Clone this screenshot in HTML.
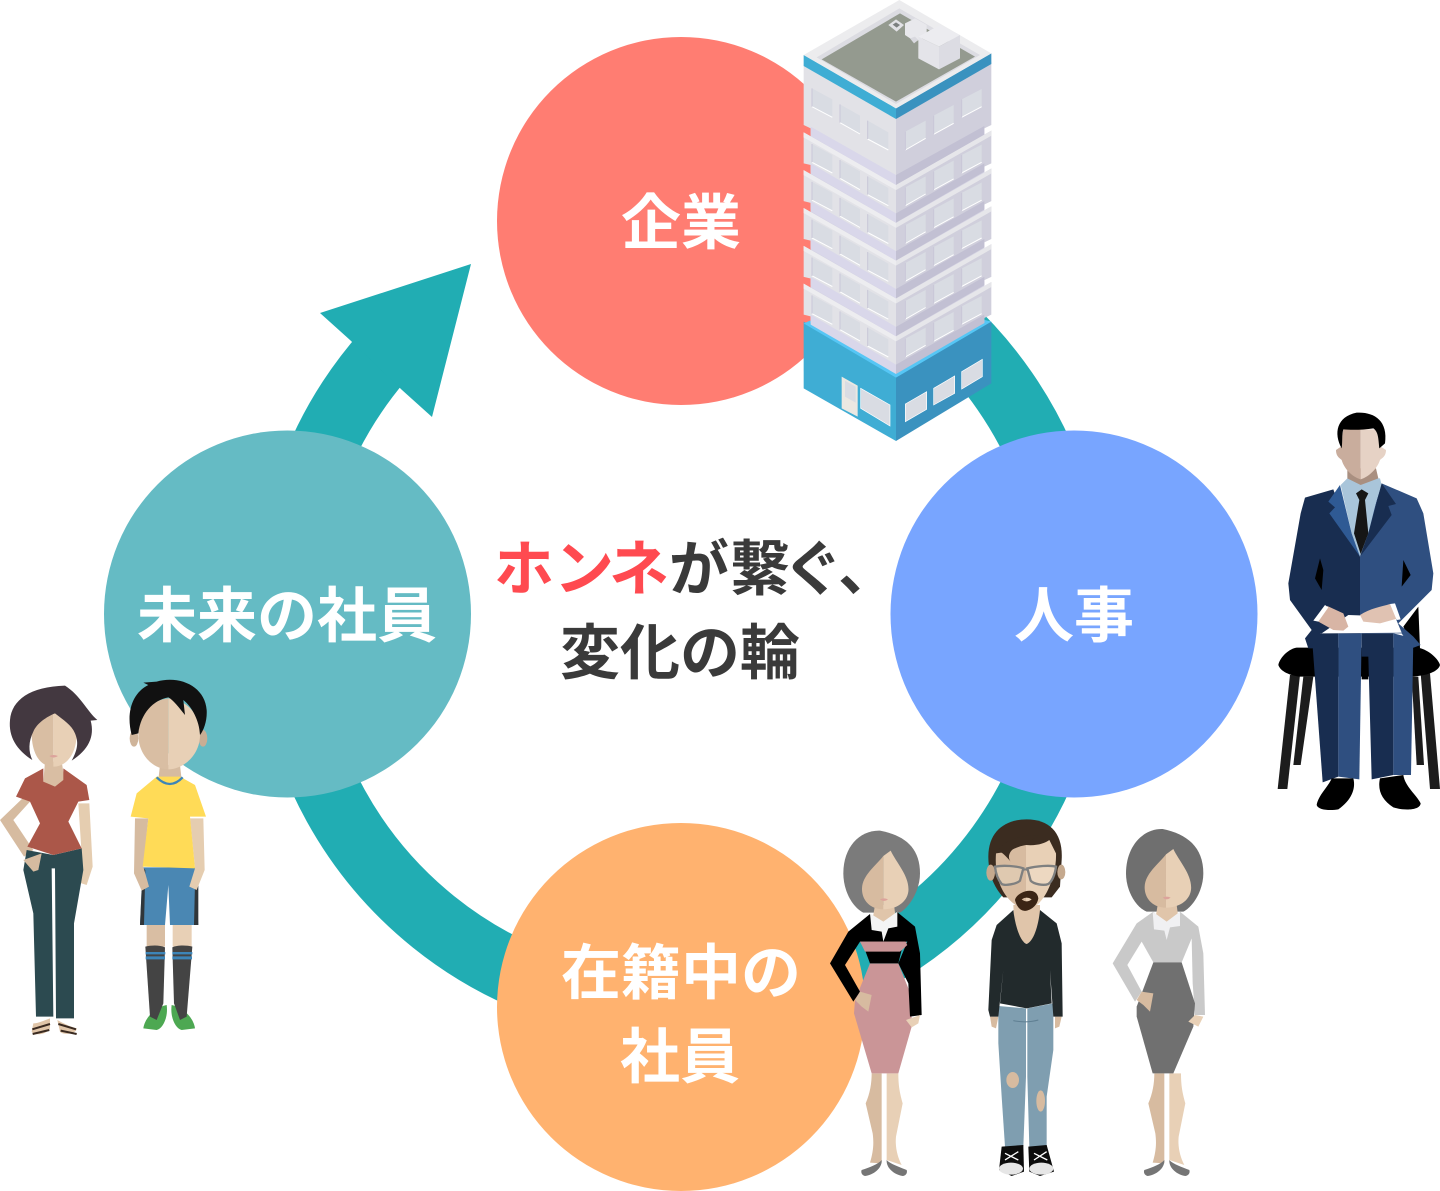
<!DOCTYPE html>
<html lang="ja"><head><meta charset="utf-8"><title>ホンネが繋ぐ、変化の輪</title>
<style>
html,body{margin:0;padding:0;background:#fff}
svg{display:block}
text{font-family:"Liberation Sans","Noto Sans CJK JP",sans-serif;font-weight:700;font-size:60px}
</style></head><body>
<svg width="1440" height="1191" viewBox="0 0 1440 1191" xmlns="http://www.w3.org/2000/svg">
<defs>
<g id="win">
<g fill="#d9dce3">
<polygon points="66,265 127,298 127,352 66,320"/><polygon points="150,313 210,347 210,402 150,368"/><polygon points="233,362 295,397 295,450 233,417"/>
<polygon points="346,395 407,362 407,415 346,450"/><polygon points="431,347 491,315 491,370 431,403"/><polygon points="515,298 575,267 575,320 515,352"/>
</g>
<g stroke="#fff" stroke-width="3" fill="none">
<path d="M66,320 127,352M150,368 210,402M233,417 295,450M346,450 407,415M431,403 491,370M515,352 575,320"/>
</g>
<g stroke="#c9c7d8" stroke-width="3" fill="none">
<path d="M66,265V320M150,313V368M233,362V417M346,395V450M431,347V403M515,298V352"/>
</g>
</g>
<g id="floor">
<polygon points="41,397 318,555 318,662 62,515 62,495 41,490" fill="#e2e2e7"/>
<polygon points="318,555 604,392 604,490 583,500 583,515 318,662" fill="#d0cfdc"/>
<polygon points="62,490 318,640 318,668 62,520" fill="#d9d7ea"/>
<polygon points="318,640 583,490 583,515 318,668" fill="#c2c0d3"/>
<polygon points="41,397 318,555 318,570 41,412" fill="#ededf0"/>
<polygon points="318,555 604,392 604,407 318,570" fill="#e6e6ea"/>
</g>
<g id="legs">
<path d="M155,790H185V1060L150,1058C160,1025 162,1000 158,970L137,880C150,850 155,820 155,790Z" fill="#d7bba0"/>
<path d="M200,790H235C235,830 240,850 248,880L228,980C225,1010 232,1040 245,1065L200,1050Z" fill="#e8d0b6"/>
<path d="M125,1080C150,1072 175,1062 185,1050C187,1075 160,1095 135,1098C125,1096 122,1086 125,1080Z" fill="#757575"/>
<path d="M200,1050C210,1062 240,1072 260,1080C263,1088 258,1097 248,1098C225,1095 198,1075 200,1050Z" fill="#757575"/>
</g>
<g id="wface">
<path d="M190,138V298C150,298 125,270 126,235C128,195 165,170 190,138Z" fill="#d7bba0"/>
<path d="M190,138L212,122C230,160 270,200 265,245C260,280 225,298 190,298Z" fill="#e8d0b6"/>
<path d="M180,268Q192,262 204,268Q192,278 180,268Z" fill="#dca39b"/>
</g>
</defs>

<!-- ring and arrow -->
<path d="M896,285A394,394 0 1 1 386,353" fill="none" stroke="#21adb3" stroke-width="66"/>
<polygon points="471,264 320,313 350,340 402,390 432,417" fill="#21adb3"/>

<!-- circles -->
<circle cx="681" cy="221" r="184" fill="#ff7d72"/>
<circle cx="1074" cy="614" r="183.5" fill="#78a5ff"/>
<circle cx="681" cy="1007" r="184" fill="#ffb26f"/>
<circle cx="287.5" cy="614" r="183.5" fill="#65bbc4"/>

<!-- labels -->
<text x="621 681" y="244" fill="#fff">企業</text>
<text x="1014 1074" y="637" fill="#fff">人事</text>
<text x="137 197 257 317 377" y="637" fill="#fff">未来の社員</text>
<text x="561 621 681 741" y="994" fill="#fff">在籍中の</text>
<text x="620 680" y="1078" fill="#fff">社員</text>
<text y="590" fill="#3a3a3a"><tspan x="494 554 609" fill="#ff4a50">ホンネ</tspan><tspan x="669 730 783 838">が繋ぐ、</tspan></text>
<text x="560 620 680 740" y="674" fill="#3a3a3a">変化の輪</text>

<!-- building -->
<g transform="translate(790,0) scale(.33333)">
<polygon points="41,965 318,1125 318,1323 41,1165" fill="#3fadd4"/>
<polygon points="318,1125 604,965 604,1150 318,1323" fill="#3a92bf"/>
<polygon points="60,962 318,1112 585,960 604,965 318,1133 41,970" fill="#56c6f5"/>
<polygon points="155,1130 203,1157 203,1250 155,1225" fill="#ebe8e2"/>
<polygon points="165,1142 197,1160 197,1208 165,1190" fill="#d9dce3"/>
<polygon points="212,1165 300,1215 300,1278 212,1225" fill="#d9dce3" stroke="#fff" stroke-width="2"/>
<polygon points="346,1212 410,1175 410,1228 346,1265" fill="#d9dce3" stroke="#fff" stroke-width="2"/>
<polygon points="431,1165 494,1128 494,1180 431,1215" fill="#d9dce3" stroke="#fff" stroke-width="2"/>
<polygon points="515,1115 577,1078 577,1130 515,1167" fill="#d9dce3" stroke="#fff" stroke-width="2"/>
<polygon points="62,190 318,335 583,190 583,962 318,1115 62,962" fill="#d5d3e4"/>
<use href="#floor" y="454"/><use href="#floor" y="340.5"/><use href="#floor" y="227"/><use href="#floor" y="113.5"/><use href="#floor"/>
<polygon points="41,190 318,350 318,530 62,385 41,375" fill="#e2e2e7"/>
<polygon points="318,350 604,185 604,375 583,385 318,530" fill="#d0cfdc"/>
<polygon points="62,380 318,525 318,555 62,408" fill="#d9d7ea"/>
<polygon points="318,525 583,378 583,405 318,555" fill="#c2c0d3"/>
<polygon points="41,397 318,555 318,570 41,412" fill="#ededf0"/>
<polygon points="318,555 604,392 604,407 318,570" fill="#e6e6ea"/>
<use href="#win"/>
<use href="#win" y="167"/><use href="#win" y="280.5"/><use href="#win" y="394"/><use href="#win" y="507.5"/><use href="#win" y="621"/>
<polygon points="41,165 318,325 318,357 41,198" fill="#3fadd4"/>
<polygon points="318,325 604,160 604,192 318,357" fill="#3a92bf"/>
<polygon points="41,165 328,0 604,160 318,325" fill="#ececee"/>
<polygon points="80,172 328,25 570,165 318,312" fill="#dcdce2"/>
<polygon points="95,178 330,40 555,170 318,305" fill="#949a8f"/>
<polygon points="295,75 318,58 342,75 320,95" fill="#e2e2e6"/>
<polygon points="308,74 318,67 330,75 320,83" fill="#7c8080"/>
<polygon points="345,70 375,55 410,75 410,110 375,125 345,105" fill="#e8e8ec"/>
<polygon points="360,115 375,110 385,120 372,130" fill="#d9d9df"/>
<polygon points="385,110 450,75 510,105 447,140" fill="#ececf0"/>
<polygon points="385,110 447,140 447,208 385,175" fill="#e4e4e9"/>
<polygon points="447,140 510,105 510,175 447,208" fill="#dcdce3"/>
</g>

<!-- seated man -->
<g transform="translate(1270,400) scale(.33333)">
<g fill="#1c1c1c">
<polygon points="60,825 90,825 52,1167 23,1167"/><polygon points="100,830 130,830 92,1095 70,1095"/>
<polygon points="425,830 445,830 462,1095 440,1095"/><polygon points="452,820 480,820 510,1167 480,1167"/>
</g>
<path d="M25,795C30,770 60,745 80,743H440C470,745 505,775 510,795C505,815 470,828 420,830H295V838H275V830H90C50,825 30,810 25,795Z" fill="#000"/>
<polygon points="125,700 205,700 205,1130 158,1147" fill="#182d50"/>
<polygon points="205,700 275,700 268,1138 205,1130" fill="#2f4f80"/>
<polygon points="275,700 370,700 370,1125 305,1138 295,770 275,770" fill="#182d50"/>
<polygon points="370,700 430,715 423,1125 370,1125" fill="#2f4f80"/>
<path d="M140,1215C145,1185 175,1160 185,1135L250,1135C258,1165 245,1200 205,1228C185,1232 145,1232 140,1215Z" fill="#000"/>
<path d="M330,1135L400,1125C405,1160 440,1185 452,1210C450,1232 400,1232 370,1222C335,1200 322,1170 330,1135Z" fill="#000"/>
<polygon points="400,680 445,620 450,745 430,745" fill="#000"/>
<polygon points="190,268 105,293 92,340 55,550 60,600 125,690 105,715 115,745 128,745 150,700 270,700 270,470 215,340" fill="#182d50"/>
<polygon points="335,250 440,295 460,340 490,520 485,570 385,670 430,710 452,735 425,745 395,700 270,700 270,470" fill="#2f4f80"/>
<polygon points="232,235 330,235 335,255 320,300 295,400 270,470 245,400 212,255" fill="#a9c5da"/>
<polygon points="258,280 275,268 295,280 285,300 295,400 272,462 252,400 268,300" fill="#161616"/>
<polygon points="210,255 175,305 195,322 178,340 270,470 245,400" fill="#2f5a94"/>
<polygon points="335,250 378,312 355,318 365,345 270,470 295,400" fill="#182d50"/>
<polygon points="150,475 135,535 155,570 160,510" fill="#000"/>
<polygon points="400,480 422,525 395,560" fill="#000"/>
<polygon points="155,700 395,698 375,650 235,645" fill="#fff"/>
<path d="M172,618L220,640L235,680L220,692L190,690L145,665Z" fill="#d8b5a5"/>
<path d="M270,645C300,625 335,620 360,612L385,655L330,670L280,665Z" fill="#e0c2b2"/>
<polygon points="165,615 175,622 145,665 130,662" fill="#fff"/>
<polygon points="360,612 375,610 392,658 380,660" fill="#fff"/>
<polygon points="232,205 318,205 325,235 272,255 232,235" fill="#a98f80"/>
<path d="M272,88H220C215,115 215,130 213,140L198,150C198,170 210,175 215,180C222,205 245,230 272,238Z" fill="#c9ad9d"/>
<path d="M272,88H326C330,115 330,130 332,140L348,150C348,170 335,175 330,180C322,205 298,230 272,238Z" fill="#e6d2c5"/>
<path d="M215,145C190,100 200,50 260,38C310,35 355,60 345,130L328,145C325,115 325,95 310,85C280,90 240,90 220,88C215,105 218,125 215,145Z" fill="#000"/>
</g>

<!-- woman and boy -->
<g transform="translate(0,670) scale(.33333)">
<path d="M75,378L0,450L72,560L100,540L40,450L90,395Z" fill="#d6bba0"/>
<path d="M235,400H268L278,590L260,645L228,635L248,600Z" fill="#e5cdb0"/>
<path d="M80,540L160,555L245,535L250,600L222,760V1045H168L165,595H155L160,1040H108L100,730L70,600Z" fill="#2c4a50"/>
<path d="M70,570L125,550L115,600L100,605Z" fill="#d6bba0"/>
<path d="M100,1060C115,1060 135,1050 150,1045L150,1075C140,1095 100,1098 95,1085Z" fill="#e0c5a8"/>
<path d="M172,1050C190,1060 210,1070 230,1075C232,1090 190,1098 180,1085Z" fill="#e0c5a8"/>
<path d="M97,1078L150,1062M98,1092L148,1080M175,1062L228,1078M182,1082L230,1092" stroke="#3a2a20" stroke-width="6" fill="none"/>
<path d="M135,275H185L195,335L165,352L130,335Z" fill="#d9bea3"/>
<path d="M160,100V290C120,290 95,250 95,190C95,140 125,105 160,100Z" fill="#d9bea3"/>
<path d="M160,100V290C200,290 230,250 230,190C230,140 195,105 160,100Z" fill="#e8d0b6"/>
<path d="M148,258Q160,252 174,258Q160,268 148,258Z" fill="#dca39b"/>
<path d="M130,295L75,325L48,380L90,395L120,460L82,530L160,555L245,535L205,455L235,395L268,390L260,345L190,295L190,330L165,350L130,335Z" fill="#ab5749"/>
<path d="M30,150C35,90 90,50 195,47C240,75 262,125 292,150L272,152C285,200 265,240 215,272C235,235 235,215 225,190C215,165 190,150 165,130C140,140 110,160 100,185C85,215 85,245 97,270C50,240 25,200 30,150Z" fill="#433840"/>

<ellipse cx="402" cy="205" rx="13" ry="25" fill="#cfb49a"/><ellipse cx="609" cy="205" rx="13" ry="25" fill="#c9ad94"/>
<path d="M480,285H540L545,330H475Z" fill="#d6bba0"/>
<path d="M505,85C455,90 415,130 415,195C415,255 460,298 505,298Z" fill="#d9bea3"/>
<path d="M505,85C560,90 600,130 600,195C600,255 550,298 505,298Z" fill="#e8d0b6"/>
<path d="M395,195C378,130 395,70 445,45L430,38L470,35C540,15 615,50 620,120C622,150 612,180 600,195C598,150 575,110 550,90L555,135C535,110 520,90 505,82C460,90 422,130 415,190Z" fill="#111"/>
<path d="M428,592H585L595,765H510L505,645L495,765H420Z" fill="#4a87b3"/>
<path d="M428,592L436,600L432,765H420ZM585,640L595,640V765H582Z" fill="#30363a"/>
<path d="M405,445H445L430,590L447,650L425,662L402,610Z" fill="#d6bba0"/>
<path d="M570,445H610L614,600L590,660L568,650L585,595Z" fill="#e5cdb0"/>
<path d="M440,765H495V830H440Z" fill="#d9bea3"/><path d="M518,765H575V830H518Z" fill="#e8d0b6"/>
<path d="M430,1075C435,1040 470,1010 500,1005C505,1040 490,1075 470,1080Z" fill="#4da852"/>
<path d="M585,1075C580,1040 545,1010 515,1005C510,1040 525,1075 545,1080Z" fill="#4da852"/>
<path d="M436,830C455,825 480,825 495,832L490,1000L470,1050L450,1040Z" fill="#444"/>
<path d="M517,832C530,825 560,825 577,830L560,1040L540,1050L522,1000Z" fill="#444"/>
<path d="M437,846H496V853H437ZM437,859H495V868H437ZM517,846H577V853H517ZM517,859H576V868H517Z" fill="#3d85b8"/>
<path d="M470,320H540L585,345L618,440H570L585,595L428,590L445,445L392,440L410,370Z" fill="#ffdb57"/>
<path d="M470,322Q510,362 548,322" fill="none" stroke="#3d85b8" stroke-width="7"/>
</g>

<!-- group of three -->
<g transform="translate(820,810) scale(.33333)">
<!-- woman A -->
<path d="M70,190C70,110 120,60 180,62C250,75 300,110 300,190C300,240 270,290 240,308H130C95,290 70,240 70,190Z" fill="#7b7b7b"/>
<use href="#legs"/>
<path d="M165,285H222L230,345L190,395L155,345Z" fill="#e0c5aa"/>
<use href="#wface"/>
<path d="M150,460H235L275,560L275,650L235,790H155L102,610L105,570Z" fill="#ca9597"/>
<path d="M120,395C165,385 220,385 255,385L262,405L240,425H145Z" fill="#ca9597"/>
<path d="M150,312L85,365L30,460L100,575L120,545L75,465L120,395H262L235,460L265,520L270,620L305,615L300,430L285,350L230,305L200,345H170Z" fill="#000"/>
<path d="M135,420H245L235,460H150Z" fill="#000"/>
<path d="M120,395H255L262,405L240,425H135Z" fill="#ca9597"/>
<path d="M150,310L155,360L185,365L190,395L205,355L232,350L232,305L190,335Z" fill="#f4f4f4"/>
<path d="M105,570L120,545L155,555L145,605L125,590Z" fill="#d7bba0"/>
<path d="M258,630L300,615L295,640L275,652Z" fill="#e8d0b6"/>

<!-- man B -->
<path d="M510,620H535L528,655L515,650ZM705,620H725L718,650L705,655Z" fill="#d7bba0"/>
<path d="M535,588L618,595V800L610,1010H555L545,860L535,700Z" fill="#7f9eb0"/>
<path d="M622,595L700,580L700,720L680,860L680,1020L628,1010L622,800Z" fill="#7f9eb0"/>
<path d="M580,632Q620,640 655,630" stroke="#5f7f92" stroke-width="3" fill="none"/>
<ellipse cx="578" cy="810" rx="19" ry="24" fill="#d7bba0"/>
<ellipse cx="662" cy="873" rx="13" ry="32" fill="#d7bba0"/>
<path d="M545,1010L610,1005L612,1085L575,1098L537,1080Z" fill="#0c0c0c"/>
<path d="M625,1010L680,1005L702,1085L660,1098L628,1085Z" fill="#0c0c0c"/>
<ellipse cx="573" cy="1076" rx="36" ry="18" fill="#e6e6e6"/>
<ellipse cx="664" cy="1076" rx="36" ry="18" fill="#e6e6e6"/>
<path d="M555,1030L595,1050M595,1025L555,1050M642,1030L682,1050M680,1025L642,1050" stroke="#fff" stroke-width="4"/>
<path d="M580,285H660V380L620,402L585,380Z" fill="#e0c5aa"/>
<path d="M580,300L530,345L515,390L505,600L510,620H535L550,480L540,580L620,595L695,580L690,480L700,620H728L725,400L710,340L660,300C655,350 640,395 620,402C600,395 585,345 580,300Z" fill="#222a2c"/>
<path d="M505,140C505,60 560,28 620,28C690,28 730,70 725,150L720,230L695,262L550,262C520,230 505,190 505,140Z" fill="#3b2c20"/>
<ellipse cx="512" cy="188" rx="13" ry="24" fill="#c5a98e"/><ellipse cx="724" cy="186" rx="12" ry="22" fill="#c5a98e"/>
<path d="M618,105C590,110 575,120 565,125L528,130C525,170 530,220 560,260C580,285 600,295 618,295Z" fill="#d7bba0"/>
<path d="M618,105C650,108 675,100 688,90L708,130C710,180 690,240 665,270C650,290 635,295 618,295Z" fill="#e8d0b6"/>
<path d="M530,130C540,100 590,70 660,78L590,110C570,120 560,140 572,155C550,130 540,120 530,130Z" fill="#3b2c20"/>
<path d="M525,170C550,165 590,168 610,175L600,212C590,222 555,228 545,222C535,210 527,190 525,170Z" fill="#e3cfb7" fill-opacity=".7" stroke="#7f8080" stroke-width="7"/>
<path d="M622,175C650,168 690,165 708,170C705,195 695,215 685,222C670,228 640,222 632,212Z" fill="#efdcc6" fill-opacity=".7" stroke="#7f8080" stroke-width="7"/>
<path d="M610,180Q616,176 622,180" stroke="#7f8080" stroke-width="6" fill="none"/>
<path d="M585,270C590,245 650,225 655,265C650,295 620,305 610,302C600,300 590,290 585,270ZM605,268Q620,280 635,268Q620,258 605,268Z" fill="#3b2515" fill-rule="evenodd"/>

<!-- woman C -->
<path d="M918,190C918,110 968,55 1028,57C1100,72 1150,110 1150,190C1150,240 1120,290 1090,305H980C945,290 918,240 918,190Z" fill="#6f6f6f"/>
<use href="#legs" x="848"/>
<path d="M1013,285H1070L1078,345L1040,390L1003,345Z" fill="#e0c5aa"/>
<use href="#wface" x="848" y="-5"/>
<path d="M1000,305L950,340L878,460L945,575L965,545L922,465L965,395L1000,457H1085L1115,385L1118,520L1125,615H1155L1150,430L1135,350L1080,305L1040,345Z" fill="#c9c9c9"/>
<path d="M1000,457H1085L1125,580L1120,650L1060,790H998L950,620V590Z" fill="#707070"/>
<path d="M998,305L1002,358L1033,362L1040,390L1050,352L1080,348V305L1040,335Z" fill="#f0f0f2"/>
<path d="M950,570L965,545L1000,550L990,605L970,585Z" fill="#d7bba0"/>
<path d="M1105,635L1125,615L1150,620L1135,650Z" fill="#e8d0b6"/>
</g>
</svg>
</body></html>
